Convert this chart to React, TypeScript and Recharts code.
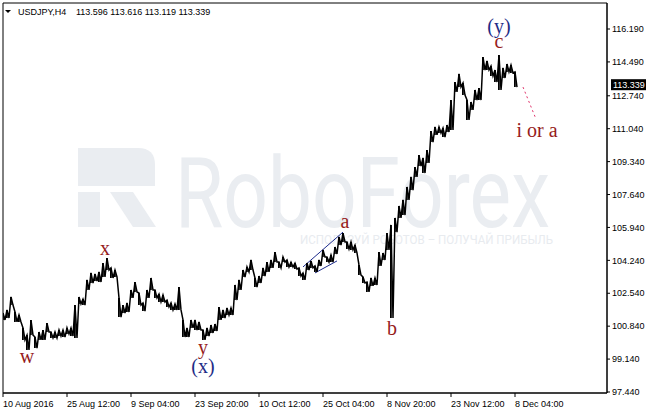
import {
  ComposedChart,
  Bar,
  Line,
  XAxis,
  YAxis,
  ReferenceArea,
  ReferenceLine,
  ReferenceDot,
} from 'recharts';

// MT4-ish look
const AXIS_FONT = '"Liberation Sans", Arial, sans-serif';
const WAVE_FONT = '"Liberation Serif", "Times New Roman", serif';
const COLOR_WAVE = '#961c1c';
const COLOR_WAVE_MAJOR = '#1f2c86';
const COLOR_CHANNEL = '#1d2b8c';
const COLOR_PROJECTION = '#e0336a';
const COLOR_WATERMARK = '#eaedf1';

// one sample every 4 H4 bars, bar 0 = 10 Aug 2016
const BAR_STEP = 4;

const highs = [
  101.52, 101.68, 102.35, 101.57, 101.42, 100.75, 100.38, 101.16, 100.28, 100.54,
  100.64, 101.0, 100.54, 100.54, 100.64, 100.64, 100.75, 100.75, 101.93, 102.35,
  102.24, 103.23, 103.59, 103.54, 103.64, 104.1, 104.36, 103.85, 103.74, 102.3,
  101.93, 102.04, 102.71, 103.12, 102.55, 102.04, 102.71, 103.33, 102.71, 102.5,
  102.45, 102.19, 102.04, 101.99, 102.86, 101.16, 100.75, 101.16, 101.16, 101.06,
  100.64, 100.75, 100.9, 100.95, 101.83, 101.68, 101.78, 101.78, 102.97, 103.23,
  103.74, 103.9, 104.26, 103.33, 103.43, 103.85, 104.15, 104.26, 104.67, 104.15,
  104.41, 104.26, 104.15, 104.1, 103.85, 103.59, 104.1, 104.21, 103.95, 104.26,
  104.78, 104.41, 104.52, 104.93, 105.45, 105.65, 105.19, 105.19, 105.03, 104.0,
  103.38, 103.12, 103.33, 103.33, 104.67, 104.62, 105.65, 106.07, 106.43, 107.05,
  107.36, 108.03, 108.55, 109.06, 109.68, 109.53, 109.94, 110.92, 111.13, 111.13,
  111.08, 111.23, 112.52, 113.45, 113.87, 113.4, 112.52, 112.42, 113.04, 113.14,
  114.74, 114.54, 114.28, 114.07, 114.85, 114.18, 114.38, 114.33, 113.97,
];

const lows = [
  101.16, 101.26, 101.93, 101.06, 101.06, 100.13, 99.61, 100.38, 99.71, 100.13,
  100.13, 100.54, 100.23, 100.23, 100.33, 100.28, 100.44, 100.33, 100.23, 101.99,
  101.93, 102.71, 103.07, 103.17, 103.12, 103.38, 103.74, 103.33, 103.38, 101.31,
  101.52, 101.57, 102.3, 102.61, 101.93, 101.62, 102.3, 102.71, 102.3, 102.09,
  102.09, 101.83, 101.68, 101.68, 101.68, 100.28, 100.28, 100.75, 100.64, 100.64,
  100.13, 100.33, 100.49, 100.59, 101.16, 101.26, 101.42, 101.42, 102.19, 102.71,
  103.38, 103.64, 103.74, 102.86, 103.07, 103.43, 103.64, 103.85, 104.15, 103.85,
  104.15, 103.9, 103.9, 103.79, 103.43, 103.23, 103.74, 103.85, 103.64, 103.95,
  104.41, 104.15, 104.15, 104.57, 105.03, 105.19, 104.83, 104.78, 104.62, 103.48,
  103.07, 102.61, 102.92, 102.97, 103.95, 104.26, 104.78, 101.26, 105.7, 106.43,
  106.58, 107.36, 107.87, 108.55, 109.11, 108.75, 109.27, 110.35, 110.72, 110.82,
  110.61, 110.87, 110.97, 112.94, 113.19, 112.78, 111.49, 112.01, 112.52, 112.52,
  114.07, 114.07, 113.76, 113.45, 113.04, 113.66, 113.97, 113.92, 113.19,
];

const xTickBars = [0, 64, 128, 192, 256, 320, 384, 448, 512];
const xTickLabels = [
  '10 Aug 2016',
  '25 Aug 12:00',
  '9 Sep 04:00',
  '23 Sep 20:00',
  '10 Oct 12:00',
  '25 Oct 04:00',
  '8 Nov 20:00',
  '23 Nov 12:00',
  '8 Dec 04:00',
];
const yTicks = [
  116.19, 114.49, 112.74, 111.04, 109.34, 107.64, 105.94, 104.24, 102.54, 100.84,
  99.14, 97.44,
];
const X_DOMAIN: [number, number] = [0, 604];
const Y_DOMAIN: [number, number] = [97.388, 117.533];

const lastPrice = 113.339;
const headerSymbol = 'USDJPY,H4';
const headerOhlc = '113.596 113.616 113.119 113.339';

const waveLabels = [
  { text: 'w', bar: 24, price: 99.3, major: false },
  { text: 'x', bar: 102, price: 104.88, major: false },
  { text: 'y', bar: 200, price: 99.76, major: false },
  { text: '(x)', bar: 200, price: 98.78, major: true },
  { text: 'a', bar: 342, price: 106.27, major: false },
  { text: 'b', bar: 389, price: 100.75, major: false },
  { text: 'c', bar: 496, price: 115.57, major: false },
  { text: '(y)', bar: 496, price: 116.35, major: true },
  { text: 'i or a', bar: 534, price: 110.97, major: false },
];

const channelUpper = [
  { x: 300, y: 103.9 },
  { x: 340, y: 105.7 },
];
const channelLower = [
  { x: 312, y: 103.59 },
  { x: 334, y: 104.21 },
];
const projection = [
  { x: 520, y: 113.19 },
  { x: 533, y: 111.54 },
];

// each sample gives a high/low bar, and the zigzag goes high -> low between samples
const data = highs.flatMap((h, i) => [
  { bar: i * BAR_STEP, range: [lows[i], h], zig: h },
  { bar: i * BAR_STEP + BAR_STEP / 2, zig: lows[i] },
]);

function XTick(props: any) {
  const { x, y, payload } = props;
  const idx = xTickBars.indexOf(payload.value);
  return (
    <text x={x} y={y + 8} fontSize={9} fontFamily={AXIS_FONT} fill="#000" textAnchor="start">
      {xTickLabels[idx]}
    </text>
  );
}

function PriceTag(props: any) {
  const vb = props.viewBox;
  const left = vb.x + vb.width + 4;
  return (
    <g>
      <rect x={left} y={vb.y - 5} width={35} height={11} fill="#000" />
      <text x={left + 2} y={vb.y + 3.5} fontSize={9} fontFamily={AXIS_FONT} fill="#fff">
        {lastPrice.toFixed(3)}
      </text>
    </g>
  );
}

function Watermark() {
  return (
    <svg width={646} height={414} style={{ position: 'absolute', left: 0, top: 0 }}>
      <g fill={COLOR_WATERMARK}>
        <path d="M78,148 H138 Q155,148 155,165 V186 H78 Z" />
        <rect x={78} y={192} width={22} height={35} />
        <path d="M110,192 H133 L156,227 H133 Z" />
      </g>
      <text
        x={175}
        y={227}
        fontSize={98}
        fontFamily="Roboto, sans-serif"
        fill={COLOR_WATERMARK}
        textLength={375}
        lengthAdjust="spacingAndGlyphs"
      >
        RoboForex
      </text>
      <text
        x={300}
        y={244}
        fontSize={12.5}
        fontFamily="Roboto, sans-serif"
        fill="#e8ebef"
        textLength={253}
        lengthAdjust="spacingAndGlyphs"
      >
        ИСПОЛЬЗУЙ РОБОТОВ – ПОЛУЧАЙ ПРИБЫЛЬ
      </text>
    </svg>
  );
}

function Header() {
  return (
    <svg
      width={646}
      height={414}
      style={{ position: 'absolute', left: 0, top: 0, pointerEvents: 'none' }}
    >
      <polygon points="5,10 11,10 8,13" fill="#000" />
      <text x={18} y={15} fontSize={9} fontFamily={AXIS_FONT} fill="#000">
        {headerSymbol}
      </text>
      <text x={76} y={15} fontSize={9} fontFamily={AXIS_FONT} fill="#000">
        {headerOhlc}
      </text>
    </svg>
  );
}

export default function App() {
  return (
    <div
      style={{
        position: 'fixed',
        left: 0,
        top: 0,
        width: 646,
        height: 414,
        background: '#fff',
        overflow: 'hidden',
      }}
    >
      <Watermark />
      <div style={{ position: 'absolute', left: 0, top: 0 }}>
        <ComposedChart
          width={646}
          height={414}
          data={data}
          margin={{ top: 3, right: 0, bottom: 0, left: 3 }}
          barCategoryGap={0}
        >
          <XAxis
            type="number"
            dataKey="bar"
            domain={X_DOMAIN}
            allowDataOverflow
            ticks={xTickBars}
            interval={0}
            tick={<XTick />}
            tickSize={4}
            tickLine={{ stroke: '#000' }}
            axisLine={{ stroke: '#000' }}
            height={21}
          />
          <YAxis
            orientation="right"
            type="number"
            domain={Y_DOMAIN}
            allowDataOverflow
            ticks={yTicks}
            interval={0}
            width={39}
            tickSize={3}
            tickMargin={2}
            tickLine={{ stroke: '#000' }}
            axisLine={{ stroke: '#000' }}
            tick={{ fontSize: 9, fill: '#000', fontFamily: AXIS_FONT }}
            tickFormatter={(v: number) => v.toFixed(3)}
          />
          <ReferenceArea
            x1={X_DOMAIN[0]}
            x2={X_DOMAIN[1]}
            y1={Y_DOMAIN[0]}
            y2={Y_DOMAIN[1]}
            fill="none"
            fillOpacity={0}
            stroke="#000"
            strokeWidth={1}
            ifOverflow="visible"
          />
          <ReferenceLine segment={channelUpper} stroke={COLOR_CHANNEL} strokeWidth={1} />
          <ReferenceLine segment={channelLower} stroke={COLOR_CHANNEL} strokeWidth={1} />
          <Bar dataKey="range" fill="#000" barSize={3} isAnimationActive={false} />
          <Line
            type="linear"
            dataKey="zig"
            stroke="#000"
            strokeWidth={1.5}
            dot={false}
            activeDot={false}
            isAnimationActive={false}
          />
          <ReferenceLine
            segment={projection}
            stroke={COLOR_PROJECTION}
            strokeWidth={1}
            strokeDasharray="2 3"
            ifOverflow="visible"
          />
          <ReferenceLine y={lastPrice} stroke="none" label={<PriceTag />} />
          {waveLabels.map((w) => (
            <ReferenceDot
              key={w.text + w.bar + w.price}
              x={w.bar}
              y={w.price}
              r={1}
              fill="none"
              stroke="none"
              ifOverflow="visible"
              label={{
                value: w.text,
                position: 'center',
                fill: w.major ? COLOR_WAVE_MAJOR : COLOR_WAVE,
                fontSize: 20,
                fontFamily: WAVE_FONT,
              }}
            />
          ))}
        </ComposedChart>
      </div>
      <Header />
    </div>
  );
}
